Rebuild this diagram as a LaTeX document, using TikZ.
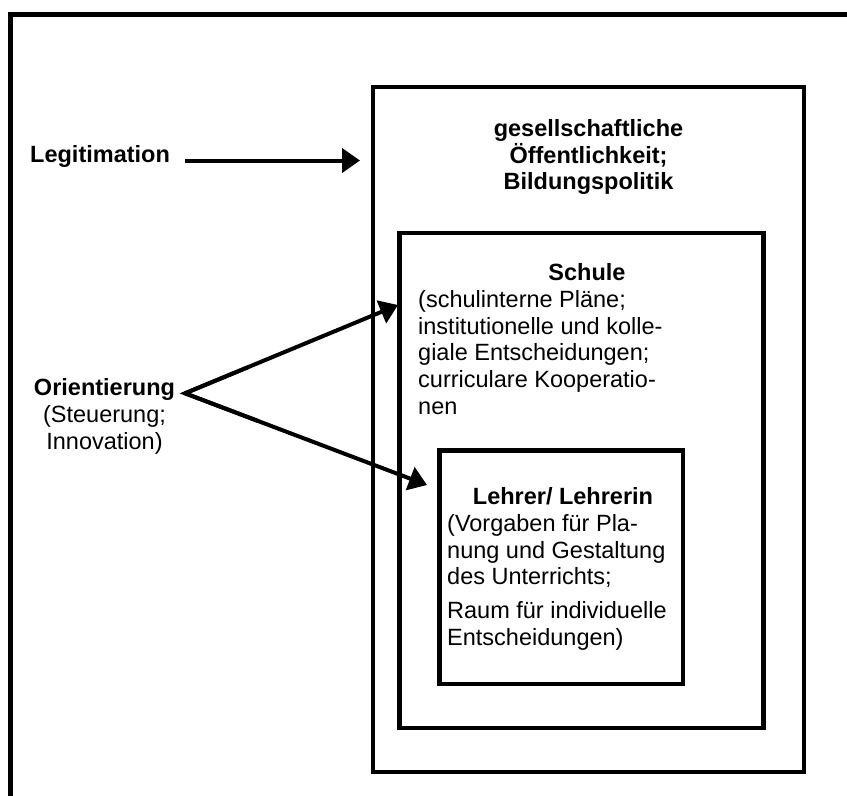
\documentclass[tikz,border=0pt]{standalone}
\usepackage{fontspec}
\setmainfont{Liberation Sans}
\usetikzlibrary{arrows.meta,calc}

\begin{document}
\begin{tikzpicture}[x=1pt,y=-1pt,
  framestyle/.style={line width=5pt, line join=miter},
  boxstyle/.style={draw, line width=4.5pt, inner sep=0pt, outer sep=0pt},
  conn/.style={line width=4pt, -{Triangle[length=18pt,width=24pt]}},
  txt/.style={inner sep=0pt, font=\fontsize{23.5}{26.8}\selectfont},
  head/.style={txt, font=\fontsize{23.5}{26.8}\selectfont\bfseries},
  ]
\useasboundingbox (0,0) rectangle (847,796);

% outer frame, open towards the right and the bottom
\draw[framestyle] (10.5,800) -- (10.5,14) -- (850,14);

% nested boxes
\node[boxstyle, minimum width=431pt, minimum height=685pt] (society) at (588.5,429.5) {};
\node[boxstyle, minimum width=364pt, minimum height=495pt] (school) at (581.5,480.5) {};
\node[boxstyle, minimum width=243.5pt, minimum height=233.5pt] (teacher) at (561.25,567.25) {};

% texts inside the boxes
\node[head, align=center, anchor=north] (societytext) at (588.5,119)
  {gesellschaftliche\\Öffentlichkeit;\\Bildungspolitik};
\node[head, anchor=base] (schooltitle) at (587,280) {Schule};
\node[txt, align=left, anchor=north west] (schooltext) at (418,290)
  {(schulinterne Pläne;\\institutionelle und kolle-\\giale Entscheidungen;\\curriculare Kooperatio-\\nen};
\node[head, anchor=base] (teachertitle) at (563,504) {Lehrer/ Lehrerin};
\node[txt, align=left, anchor=north west] (teachertext) at (447,514)
  {(Vorgaben für Pla-\\nung und Gestaltung\\des Unterrichts;\\[7pt]Raum für individuelle\\Entscheidungen)};

% labels on the left
\node[head, anchor=base west] (legit) at (30,162.5) {Legitimation};
\node[head, anchor=base] (orient) at (104.5,395) {Orientierung};
\node[txt, align=center, anchor=north] (orientsub) at (104.5,405) {(Steuerung;\\Innovation)};

% arrows
\coordinate (legitstart) at (185,160.5);
\coordinate (legitend) at (360,160.5);
\coordinate (orientvertex) at (185,393.3);
\coordinate (schoolhit) at (398,305);
\coordinate (teacherhit) at (427,485);
\draw[conn] (legitstart) -- (legitend);
\draw[conn] (orientvertex) -- (schoolhit);
\draw[conn] (orientvertex) -- (teacherhit);
% sharp joint where both arrows leave
\draw[line width=4pt, line join=miter]
  ($(orientvertex)!0.3!(schoolhit)$) -- (orientvertex) -- ($(orientvertex)!0.3!(teacherhit)$);
\end{tikzpicture}
\end{document}
